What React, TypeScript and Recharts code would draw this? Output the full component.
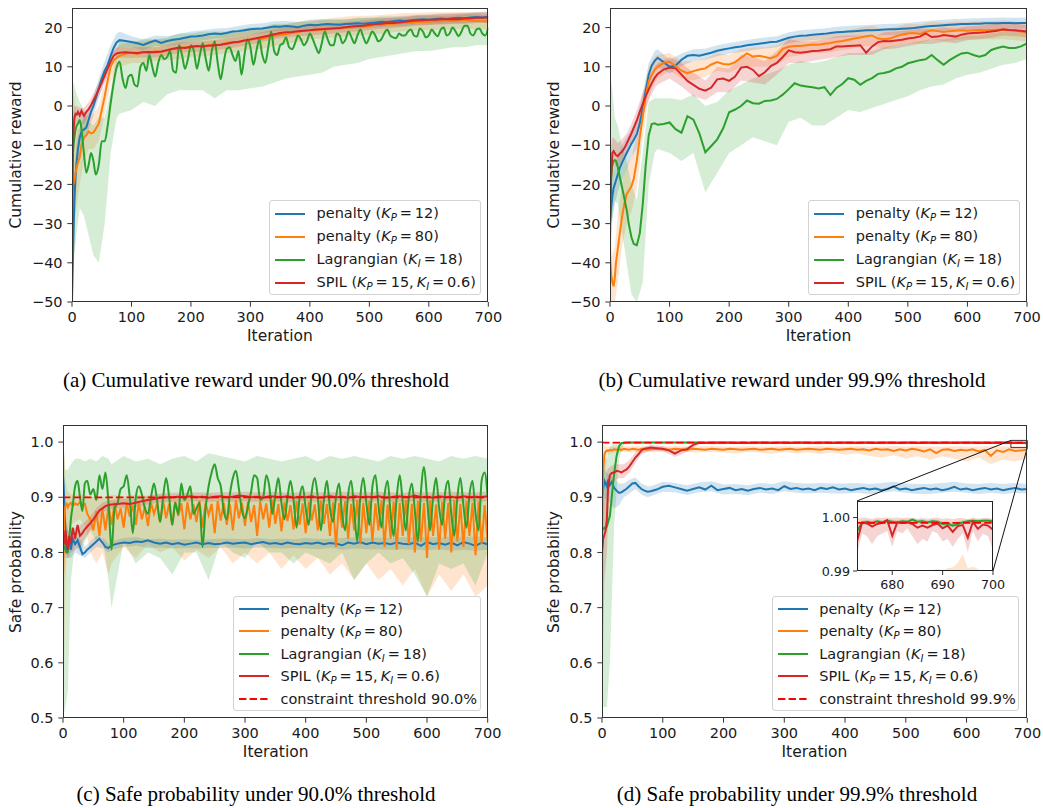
import React from "react";
import { Area, ComposedChart, Line, ReferenceArea, ReferenceLine, XAxis, YAxis } from "recharts";

// iteration grids (sample positions)
const EARLY = [0, 2, 4, 6, 8, 10, 13, 16, 20, 24, 28, 32, 36, 40, 45, 50, 55, 60, 65, 70, 75];
const ITER_C = [...EARLY, ...Array.from({ length: 63 }, (_, i) => 80 + 10 * i)];
const ITER_F = [...EARLY, ...Array.from({ length: 125 }, (_, i) => 80 + 5 * i)];
const ITER_B = [0, 2, 4, 8, 13, 20, 28, 36, 45, 55, 65, 75, 80, ...Array.from({ length: 31 }, (_, i) => 100 + 20 * i)];
const ITER_INSET = Array.from({ length: 28 }, (_, i) => 673 + i);

const X_TICKS = [0, 100, 200, 300, 400, 500, 600, 700];
const REWARD_TICKS = [-50, -40, -30, -20, -10, 0, 10, 20];
const SAFE_TICKS = [0.5, 0.6, 0.7, 0.8, 0.9, 1.0];

// ---- (a) cumulative reward, 90.0% threshold ----
const blueA = [
  -50, -36, -24, -18, -14, -11, -8, -6.5, -6, -5.5, -3.5, -1.5, 0, 2, 4.5, 7, 9, 10.5, 12.8, 14.8, 16.2,
  16.8, 16.6,
  16.3, 16, 15.6, 16.2, 16.7, 16.1, 16.6, 16.9, 17.1, 17.4,
  17.7, 17.8, 18, 18.3, 18.5, 18.4, 18.6, 19, 19.1, 19.3,
  19.6, 19.7, 19.8, 20, 20.3, 20.2, 20.4, 20.3, 20.1, 20.5,
  20.7, 20.6, 20.8, 20.9, 20.8, 20.7, 20.9, 21, 21.1, 21,
  21.2, 21.3, 21.5, 21.4, 21.6, 21.8, 21.7, 21.9, 22, 22.1,
  22, 22.2, 22.3, 22.2, 22.4, 22.5, 22.4, 22.6, 22.7, 22.6, 22.8,
];
const orangeA = [
  -22, -20, -19, -17, -15.5, -14.5, -13, -10, -8, -7.5, -6.5, -7, -6.8, -5.8, -4.5, -1, 2.5, 6.5, 10, 11.6, 12.3,
  12.8, 13.3,
  13.6, 13.2, 13.8, 13.5, 14, 13.7, 14.3, 14.6, 14.4, 15,
  14.9, 15.3, 15.1, 15.6, 15.4, 15.7, 16.1, 16.3, 16.2, 16.7,
  16.9, 17.2, 17.1, 17.6, 17.9, 18.1, 18.3, 18.6, 18.9, 19.2,
  19.4, 19.3, 19.6, 19.5, 19.9, 19.8, 20.1, 20, 20.3, 20.2,
  20.4, 20.7, 20.6, 20.9, 21, 21.1, 21.3, 21.2, 21.5, 21.4,
  21.5, 21.7, 21.6, 21.9, 21.7, 21.8, 22, 21.8, 21.7, 21.6, 21.5,
];
const greenA = [
  -15, -11, -8, -6, -5, -4.5, -3.6, -6, -12, -17, -15, -12, -14, -17.5, -15, -9, -9, -5, 0.7, 5.8, 9.8,
  11.3, 7, 4.6, 7.5,
  8, 5.5, 5, 10, 11, 9, 13, 10, 7.5, 11, 13, 12, 12.5, 14, 9, 8.5, 15.5, 13, 9.5, 12,
  15.5, 14, 9.5, 13, 16, 12, 9, 14, 16.5, 11, 6.8, 11, 14.5, 15, 13, 11.5, 14, 8, 13, 17,
  15, 10.5, 14, 17, 13, 11, 15, 19, 14, 13, 15.5, 16, 17.5, 15, 14.5, 16, 18, 17, 15.5, 16.5,
  18.5, 17, 15, 13.5, 16, 19, 17, 15.5, 15.5, 18.5, 18, 16, 17, 19, 17.5, 16, 18, 19.5, 17.5, 16,
  17.5, 19, 18, 16.5, 17, 18.5, 19.5, 18, 17.5, 17.3, 18.5, 18, 18, 19, 19.5, 18, 17.7, 19.8, 19, 17.5,
  18, 19.5, 18.5, 17.8, 19.5, 20, 18, 18.5, 20, 19, 17.8, 19, 20.5, 20.5, 18.5, 18, 19.5, 19.8, 18.5, 18, 20,
];
const redA = [
  -35, -8, -3, -2, -2.2, -1.5, -2.4, -1.2, -2.5, -1.5, -0.8, 0.2, 1.4, 2.6, 4.3, 6, 7.8, 9.6, 11.4, 12.8, 13.4,
  13.6, 13.7,
  13.6, 13.5, 13.7, 13.8, 13.7, 13.9, 14.2, 14.6, 14.9, 14.8,
  15.1, 15.3, 15.2, 15.4, 15.5, 15.6, 15.9, 16.2, 16.4, 16.7,
  17, 17.3, 17.6, 17.9, 18.3, 18.6, 18.8, 18.9, 19.1, 19.2,
  19.3, 19.5, 19.6, 19.7, 19.8, 19.9, 20.1, 20.3, 20.4, 20.5,
  20.7, 20.9, 21, 21.2, 21.2, 21.3, 21.5, 21.7, 21.8, 21.9,
  22, 22, 22.1, 22.1, 22.2, 22.1, 22.3, 22.4, 22.5, 22.5, 22.6,
];
const blueBandA = [
  [-50, -36], [-46, -26], [-32, -16], [-18, -9], [-11, -5], [-9, -3], [-6, -1], [-2.5, 2.5], [2, 7], [6.5, 11.5], [10.5, 15.5], [14, 18.5],
  [15, 19],
  [15, 17.8], [14.3, 17], [15.3, 18], [15.3, 17.8], [15.8, 18.4], [16.4, 19], [16.7, 19.3], [17.2, 19.8], [17.3, 19.9], [17.8, 20.4],
  [18.3, 20.9], [18.5, 21.1], [19, 21.6], [19.1, 21.7], [18.8, 21.4], [19.4, 22], [19.5, 22.1], [19.5, 22.1], [19.6, 22.2], [19.8, 22.4],
  [19.9, 22.5], [20.2, 22.8], [20.3, 22.9], [20.4, 23], [20.7, 23.3], [20.7, 23.3], [21, 23.6], [21.1, 23.7], [21.1, 23.7], [21.4, 24],
  [21.5, 24.1],
];
const orangeBandA = [
  [-35, 5], [-32, 4], [-30, 2], [-25, -5], [-20, -6], [-14, -3], [-11, -2], [-11, -2], [-9, 0], [-2, 6], [6, 13], [9.5, 15],
  [10, 15.5],
  [11, 16.5], [11, 16.5], [11.5, 17], [11.7, 17], [12, 17.3], [12.5, 17.5], [12.7, 17.7], [13, 18], [13.6, 18.6], [13.8, 18.8],
  [14.5, 19.5], [14.6, 19.8], [15.4, 20.5], [15.8, 20.8], [16.4, 21.4], [17, 21.9], [17.2, 22.1], [17.5, 22.5], [17.8, 22.8], [18, 23],
  [18.2, 23], [18.4, 23.2], [18.8, 23.5], [19.1, 23.7], [19.3, 23.8], [19.4, 23.9], [19.5, 23.9], [19.6, 23.9], [19.8, 24], [19.6, 23.9],
  [19.5, 23.7],
];
const greenBandA = [
  [-45, 7], [-42, 6], [-38, 5], [-32, 3], [-26, 1], [-28, -1], [-33, -4], [-38, -5], [-40, -3], [-30, -3], [-12, 4], [-3, 14],
  [-2, 16.5],
  [-1, 16], [1, 17], [0, 17], [3, 17.5], [4, 18.5], [4, 18.5], [4, 19], [2, 19], [4, 19], [4, 19.5],
  [4.5, 20], [5, 20], [6, 21], [7, 21], [7.5, 21.5], [8, 21.5], [8.5, 22], [10, 22], [10.5, 22], [11, 22.5],
  [12, 22.5], [12.5, 22.5], [13, 22.5], [13.5, 22.5], [14, 23], [14, 23], [14.5, 23], [15, 23], [15, 23.5], [15.5, 23.5],
  [15.5, 23],
];
const redBandA = [
  [-40, -20], [-14, -2], [-6, 0], [-4, 0], [-4.5, -0.5], [-4.5, -0.5], [-2.5, 1], [-0.5, 3.2], [2.5, 6], [6, 9.6], [9.8, 13], [12, 14.8],
  [12.3, 15],
  [12.3, 14.9], [12.4, 15], [12.4, 15], [12.9, 15.5], [13.6, 16.2], [13.8, 16.4], [13.9, 16.5], [14.2, 16.8], [14.6, 17.2], [15.1, 17.7],
  [15.7, 18.3], [16.3, 18.9], [17, 19.6], [17.5, 20.1], [17.8, 20.4], [18, 20.6], [18.3, 20.9], [18.5, 21.1], [18.8, 21.4], [19.1, 21.7],
  [19.4, 22], [19.7, 22.3], [19.9, 22.5], [20.2, 22.8], [20.5, 23.1], [20.7, 23.3], [20.8, 23.4], [20.9, 23.5], [21, 23.6], [21.2, 23.8],
  [21.3, 23.9],
];

// ---- (b) cumulative reward, 99.9% threshold ----
const blueB = [
  -30, -26, -23, -21, -20, -19, -17.5, -16, -14.5, -13.3, -12, -10.8, -9.6, -8.6, -7.2, -4.5, -0.5, 4, 8, 10.3, 11.5,
  12.3, 11.2,
  10, 10.3, 11.8, 12.8, 13, 12.8, 13.2, 13.6, 14.1, 14.4,
  14.7, 15, 15.2, 15.5, 15.7, 15.9, 16.1, 16.3, 16.4, 16.9,
  17.4, 17.7, 17.9, 18, 18.2, 18.3, 18.4, 18.6, 18.8, 18.9,
  19, 19.1, 19.2, 19.3, 19.3, 19.4, 19.5, 19.6, 19.6, 19.7,
  19.8, 19.9, 20.1, 20.3, 20.4, 20.5, 20.6, 20.7, 20.8, 20.9,
  20.9, 21, 21, 21.1, 21.1, 21.1, 21.2, 21.2, 21.1, 21.2, 21.2,
];
const orangeB = [
  -38, -43, -45, -46, -44, -40, -36.5, -33, -28.5, -25, -22.5, -21.5, -20.5, -18.5, -14, -8, -2.5, 2.5, 6.3, 8, 9.2,
  10, 11,
  11.3, 10.2, 9, 8.4, 8.9, 9.3, 9.6, 10.6, 11.2, 10.7,
  10.6, 11.2, 12.3, 13.4, 12.6, 12.8, 12.5, 12.2, 12.8, 14.6,
  15.1, 15.3, 15.3, 15.5, 15.7, 15.6, 15.9, 16.1, 16.4, 16.6,
  16.9, 17.2, 17.5, 17.8, 18, 17.2, 17, 17.2, 17.8, 18.2,
  18.5, 18.6, 18.4, 18.9, 19.3, 19.1, 18.9, 19.1, 19.2, 19.3,
  19.2, 19.3, 19.4, 19.3, 19.4, 19.5, 19.4, 19.3, 19.2, 19, 18.7,
];
const greenB = [
  -25, -18, -15, -14, -13.8, -14, -15.5, -17.8, -20.6, -23.5, -26.5, -30.5, -33.5, -35.2, -35.5, -32.5, -25, -15, -7.5, -4.6, -4.4,
  -4.8, -4.6,
  -4.2, -5.9, -6.8, -2.6, -3.5, -7, -11.8, -10.2, -8.5, -5.7,
  -1.6, -0.9, 0, 1.4, 0.7, 0.6, 1.3, 1.4, 1.8, 2.9,
  4.3, 5.8, 5.2, 5, 4.8, 4.5, 4.8, 2.8, 4.6, 5.6,
  7.1, 6.7, 5.4, 6.4, 7.1, 8.2, 8.4, 8.8, 9.6, 10,
  10.9, 11.3, 11.7, 11.9, 13, 11.7, 10.5, 11.7, 12.6, 13.4,
  13.6, 13, 12.6, 13, 14.3, 14.8, 15.2, 14.8, 14.8, 15.2, 16,
];
const redB = [
  -30, -18, -12, -11.5, -12, -12.5, -12.8, -12.2, -11.7, -10.8, -9.6, -8.3, -7, -5.5, -3.7, -1.5, 0.5, 2.5, 4.2, 5.8, 7.2,
  8.2, 9.3,
  9.8, 9.6, 8, 6.4, 5.4, 4.4, 3.9, 4.7, 6.8, 7,
  6.4, 7.5, 9.8, 10, 9.2, 7.6, 8.6, 10.2, 11, 12.5,
  14.2, 13.7, 13.6, 13.8, 14, 14.1, 14.3, 14.5, 15.2, 15.2,
  15.3, 15.4, 15.5, 13.6, 15.2, 16.3, 16.6, 16.5, 16.7, 16.9,
  17.2, 17.4, 17.7, 18.5, 17.6, 17.7, 18.1, 17.9, 17.7, 18.2,
  18.5, 18.6, 18.7, 18.8, 19, 19.2, 19.6, 19.4, 19.3, 19.2, 19,
];
const blueBandB = [
  [-40, -20], [-33, -19], [-29, -17], [-25, -15], [-22, -13], [-19, -10], [-16, -8], [-13, -6], [-11, -3], [-4, 3], [5, 11], [9, 14],
  [10, 14.5],
  [8.3, 11.8], [10.2, 13.4], [11.5, 14.5], [11.8, 14.6], [12.7, 15.5], [13.3, 16.1], [13.8, 16.6], [14.3, 17.1], [14.7, 17.5], [15, 17.8],
  [16, 18.8], [16.5, 19.3], [16.8, 19.6], [17, 19.8], [17.4, 20.2], [17.6, 20.4], [17.8, 20.6], [17.9, 20.7], [18.1, 20.9], [18.2, 21],
  [18.4, 21.2], [18.7, 21.5], [19, 21.8], [19.2, 22], [19.4, 22.2], [19.5, 22.3], [19.6, 22.4], [19.7, 22.5], [19.8, 22.6], [19.7, 22.5],
  [19.8, 22.6],
];
const orangeBandB = [
  [-50, -25], [-50, -35], [-50, -38], [-50, -36], [-45, -28], [-36, -20], [-30, -15], [-27, -13], [-21, -7], [-8, 3], [2, 10], [6, 12.5],
  [7, 13],
  [9, 13.5], [7, 11.5], [6.5, 11.5], [7.5, 12], [9, 13.5], [8.5, 13], [10, 14.5], [10, 15], [10, 15], [10.5, 15.5],
  [12.5, 17.5], [13, 17.5], [13.5, 18], [13.5, 18.3], [14, 18.8], [14.5, 19.3], [15, 20], [15.5, 20.5], [14.5, 19.5], [15.5, 20.2],
  [16, 21], [16, 20.8], [17, 21.5], [16.5, 21.3], [16.8, 21.5], [17, 21.5], [17, 21.7], [17, 21.7], [17, 21.8], [16.8, 21.6],
  [16.4, 21.2],
];
const greenBandB = [
  [-45, 6], [-35, 6], [-28, 4], [-24, -3], [-25, -5], [-32, -10], [-40, -14], [-48, -20], [-50, -24], [-45, -12], [-20, 1], [-12, 2],
  [-11, 2],
  [-12, 2], [-14, 1.5], [-12, 3], [-22, 0], [-17, 1], [-12, 4], [-10, 5.5], [-8, 7], [-9, 8], [-10, 9],
  [-4, 10.5], [-3, 11.5], [-5, 11], [-5, 11.5], [-3, 12.5], [-1, 13.5], [-1.5, 13.5], [-0.5, 14], [0.5, 15], [1.5, 15.5],
  [2.5, 16], [4, 16.5], [5, 17], [5.5, 17], [7, 17.5], [8, 18], [8.5, 18], [9.5, 18.5], [10.5, 19], [11, 19],
  [12, 19.5],
];
const redBandB = [
  [-40, -15], [-25, -10], [-16, -8], [-15, -8.5], [-15.5, -9.5], [-14.5, -8.5], [-12.5, -7], [-9.5, -4.5], [-6.5, -1], [-2.5, 3.5], [1.5, 7], [4.5, 10],
  [5.5, 11],
  [7, 12.5], [5, 11], [2.5, 8.5], [1.5, 6.5], [3.5, 10], [3.5, 9.5], [6.5, 13], [6, 12.5], [5.5, 11.5], [8, 14],
  [11, 17], [11, 16.5], [11.5, 16.5], [12, 17], [12.5, 17.8], [13, 18], [13, 18], [13, 17.5], [14.5, 18.8], [14.7, 19],
  [15.3, 19.3], [15.8, 19.8], [15.8, 19.6], [16.3, 20], [16, 19.8], [16.8, 20.3], [17, 20.5], [17.4, 20.8], [18, 21.2], [17.8, 21],
  [17.5, 20.6],
];

// ---- (c) safe probability, 90.0% threshold ----
const blueC = [
  0.94, 0.9, 0.83, 0.8, 0.815, 0.82, 0.805, 0.825, 0.815, 0.822, 0.81, 0.797, 0.8, 0.805, 0.81, 0.815, 0.82, 0.825, 0.818, 0.81, 0.808,
  0.813, 0.816,
  0.818, 0.817, 0.82, 0.819, 0.822, 0.818, 0.816, 0.818, 0.815, 0.817,
  0.814, 0.816, 0.818, 0.815, 0.817, 0.815, 0.816, 0.818, 0.816, 0.817,
  0.818, 0.815, 0.817, 0.819, 0.816, 0.817, 0.815, 0.818, 0.816, 0.815,
  0.817, 0.816, 0.818, 0.815, 0.817, 0.816, 0.813, 0.818, 0.816, 0.819,
  0.815, 0.818, 0.816, 0.817, 0.815, 0.818, 0.816, 0.815, 0.818, 0.812,
  0.819, 0.815, 0.817, 0.814, 0.818, 0.813, 0.819, 0.816, 0.812, 0.818, 0.815,
];
const orangeC = [
  0.75, 0.86, 0.885, 0.888, 0.882, 0.887, 0.89, 0.884, 0.889, 0.886, 0.891, 0.885, 0.888, 0.87, 0.86, 0.84, 0.875, 0.83, 0.88, 0.84, 0.885,
  0.85, 0.89, 0.86, 0.88,
  0.845, 0.89, 0.865, 0.885, 0.85, 0.89, 0.86, 0.883, 0.848, 0.89, 0.87, 0.888, 0.855, 0.893, 0.862, 0.888, 0.85, 0.892, 0.866, 0.889,
  0.842, 0.891, 0.86, 0.887, 0.855, 0.894, 0.845, 0.89, 0.868, 0.888, 0.835, 0.893, 0.858, 0.89, 0.85, 0.887, 0.84, 0.895, 0.862, 0.89,
  0.848, 0.892, 0.855, 0.886, 0.83, 0.893, 0.86, 0.889, 0.845, 0.895, 0.852, 0.888, 0.838, 0.891, 0.857, 0.886, 0.842, 0.893, 0.85, 0.889,
  0.835, 0.892, 0.858, 0.887, 0.84, 0.894, 0.852, 0.888, 0.83, 0.891, 0.81, 0.89, 0.845, 0.893, 0.825, 0.888, 0.84, 0.895, 0.815, 0.89,
  0.835, 0.893, 0.82, 0.889, 0.84, 0.894, 0.81, 0.887, 0.825, 0.892, 0.805, 0.89, 0.83, 0.895, 0.815, 0.888, 0.8, 0.893, 0.82, 0.89,
  0.79, 0.894, 0.83, 0.887, 0.805, 0.892, 0.825, 0.89, 0.8, 0.895, 0.82, 0.888, 0.81, 0.893, 0.83, 0.89, 0.795, 0.892, 0.815, 0.886, 0.82,
];
const greenC = [
  0.82, 0.81, 0.805, 0.8, 0.8, 0.82, 0.86, 0.885, 0.92, 0.93, 0.9, 0.875, 0.925, 0.93, 0.905, 0.915, 0.895, 0.94, 0.915, 0.945, 0.89,
  0.805, 0.88, 0.89, 0.915,
  0.92, 0.94, 0.9, 0.835, 0.9, 0.92, 0.905, 0.88, 0.87, 0.9, 0.925, 0.895, 0.855, 0.9, 0.935, 0.9, 0.85, 0.89, 0.87, 0.925,
  0.895, 0.905, 0.92, 0.87, 0.88, 0.89, 0.81, 0.88, 0.92, 0.945, 0.96, 0.935, 0.92, 0.875, 0.86, 0.905, 0.935, 0.948, 0.915, 0.875,
  0.862, 0.885, 0.91, 0.94, 0.935, 0.895, 0.9, 0.94, 0.92, 0.87, 0.905, 0.935, 0.89, 0.86, 0.9, 0.93, 0.895, 0.845, 0.9, 0.92,
  0.88, 0.85, 0.91, 0.935, 0.9, 0.84, 0.895, 0.93, 0.88, 0.855, 0.9, 0.925, 0.87, 0.84, 0.905, 0.93, 0.875, 0.82, 0.9, 0.935,
  0.89, 0.85, 0.92, 0.94, 0.885, 0.845, 0.905, 0.93, 0.87, 0.83, 0.9, 0.94, 0.89, 0.84, 0.9, 0.925, 0.875, 0.82, 0.91, 0.955,
  0.9, 0.84, 0.9, 0.935, 0.88, 0.85, 0.91, 0.93, 0.87, 0.83, 0.9, 0.935, 0.885, 0.845, 0.905, 0.93, 0.87, 0.84, 0.93, 0.945, 0.9,
];
const redC = [
  0.83, 0.815, 0.84, 0.82, 0.805, 0.83, 0.815, 0.845, 0.825, 0.85, 0.83, 0.835, 0.842, 0.847, 0.853, 0.86, 0.868, 0.876, 0.88, 0.884, 0.886,
  0.887, 0.888,
  0.889, 0.888, 0.89, 0.893, 0.895, 0.897, 0.899, 0.9, 0.9, 0.901,
  0.9, 0.902, 0.9, 0.901, 0.899, 0.901, 0.902, 0.9, 0.901, 0.903,
  0.902, 0.9, 0.901, 0.899, 0.902, 0.901, 0.9, 0.902, 0.899, 0.901,
  0.9, 0.902, 0.899, 0.9, 0.902, 0.9, 0.901, 0.899, 0.902, 0.9,
  0.901, 0.9, 0.902, 0.899, 0.9, 0.902, 0.901, 0.9, 0.903, 0.9,
  0.901, 0.899, 0.902, 0.9, 0.901, 0.899, 0.902, 0.9, 0.901, 0.9, 0.902,
];
const blueBandC = [
  [0.9, 0.97], [0.84, 0.95], [0.79, 0.87], [0.79, 0.84], [0.79, 0.83], [0.8, 0.83], [0.795, 0.825], [0.79, 0.81], [0.8, 0.82], [0.81, 0.83], [0.808, 0.828], [0.8, 0.816],
  [0.805, 0.82],
  [0.81, 0.826], [0.812, 0.828], [0.808, 0.824], [0.809, 0.825], [0.807, 0.823], [0.808, 0.824], [0.807, 0.823], [0.808, 0.824], [0.808, 0.825], [0.809, 0.825],
  [0.807, 0.824], [0.809, 0.826], [0.808, 0.824], [0.807, 0.825], [0.808, 0.824], [0.807, 0.826], [0.806, 0.825], [0.808, 0.825], [0.805, 0.826], [0.807, 0.827],
  [0.806, 0.826], [0.806, 0.827], [0.805, 0.826], [0.806, 0.828], [0.805, 0.827], [0.804, 0.828], [0.806, 0.827], [0.803, 0.829], [0.805, 0.828], [0.803, 0.829],
  [0.805, 0.827],
];
const orangeBandC = [
  [0.55, 1.0], [0.6, 0.98], [0.75, 0.93], [0.84, 0.91], [0.85, 0.905], [0.855, 0.905], [0.86, 0.905], [0.85, 0.905], [0.8, 0.9], [0.78, 0.9], [0.8, 0.9], [0.76, 0.9],
  [0.78, 0.905],
  [0.81, 0.902], [0.79, 0.905], [0.815, 0.903], [0.8, 0.905], [0.81, 0.903], [0.785, 0.905], [0.805, 0.904], [0.79, 0.905], [0.81, 0.903], [0.78, 0.905],
  [0.8, 0.904], [0.78, 0.905], [0.8, 0.903], [0.77, 0.905], [0.795, 0.904], [0.77, 0.905], [0.79, 0.903], [0.76, 0.905], [0.78, 0.904], [0.75, 0.905],
  [0.78, 0.904], [0.75, 0.905], [0.77, 0.903], [0.74, 0.905], [0.77, 0.904], [0.72, 0.905], [0.76, 0.903], [0.73, 0.905], [0.76, 0.904], [0.72, 0.905],
  [0.74, 0.904],
];
const greenBandC = [
  [0.52, 1.0], [0.51, 0.98], [0.52, 0.95], [0.55, 0.95], [0.75, 0.96], [0.82, 0.97], [0.8, 0.97], [0.82, 0.965], [0.84, 0.97], [0.82, 0.965], [0.83, 0.975], [0.75, 0.97],
  [0.7, 0.96],
  [0.82, 0.975], [0.78, 0.965], [0.8, 0.97], [0.79, 0.96], [0.76, 0.97], [0.8, 0.975], [0.8, 0.965], [0.75, 0.98], [0.82, 0.975], [0.8, 0.97],
  [0.79, 0.965], [0.82, 0.975], [0.8, 0.97], [0.8, 0.965], [0.78, 0.97], [0.8, 0.975], [0.79, 0.965], [0.78, 0.975], [0.8, 0.97], [0.75, 0.975],
  [0.78, 0.97], [0.8, 0.965], [0.78, 0.975], [0.79, 0.97], [0.76, 0.975], [0.72, 0.97], [0.78, 0.965], [0.77, 0.975], [0.78, 0.97], [0.74, 0.975],
  [0.8, 0.97],
];
const redBandC = [
  [0.78, 0.88], [0.79, 0.85], [0.8, 0.86], [0.79, 0.84], [0.8, 0.84], [0.805, 0.845], [0.81, 0.85], [0.825, 0.855], [0.84, 0.865], [0.855, 0.88], [0.872, 0.89], [0.878, 0.894],
  [0.879, 0.895],
  [0.881, 0.897], [0.882, 0.898], [0.887, 0.903], [0.891, 0.907], [0.892, 0.908], [0.892, 0.908], [0.893, 0.909], [0.892, 0.908], [0.893, 0.909], [0.892, 0.909],
  [0.893, 0.91], [0.892, 0.909], [0.893, 0.91], [0.892, 0.909], [0.892, 0.908], [0.893, 0.91], [0.892, 0.909], [0.892, 0.909], [0.893, 0.91], [0.892, 0.909],
  [0.892, 0.909], [0.893, 0.91], [0.892, 0.909], [0.892, 0.908], [0.893, 0.91], [0.892, 0.909], [0.892, 0.909], [0.893, 0.91], [0.892, 0.909], [0.892, 0.909],
  [0.893, 0.91],
];

// ---- (d) safe probability, 99.9% threshold ----
const blueD = [
  0.9, 0.915, 0.93, 0.925, 0.92, 0.932, 0.922, 0.928, 0.917, 0.912, 0.908, 0.909, 0.912, 0.915, 0.92, 0.925, 0.926, 0.92, 0.915, 0.912, 0.91,
  0.911, 0.914,
  0.919, 0.921, 0.918, 0.915, 0.912, 0.915, 0.918, 0.914, 0.921, 0.913,
  0.915, 0.917, 0.913, 0.915, 0.912, 0.915, 0.917, 0.914, 0.916, 0.913,
  0.92, 0.915, 0.917, 0.914, 0.916, 0.913, 0.917, 0.915, 0.918, 0.914,
  0.916, 0.913, 0.915, 0.917, 0.914, 0.916, 0.913, 0.915, 0.92, 0.914,
  0.916, 0.913, 0.915, 0.917, 0.914, 0.916, 0.913, 0.915, 0.919, 0.914,
  0.916, 0.913, 0.915, 0.917, 0.914, 0.916, 0.913, 0.915, 0.917, 0.914, 0.915,
];
const orangeD = [
  0.86, 0.95, 0.978, 0.983, 0.985, 0.984, 0.986, 0.985, 0.987, 0.986, 0.987, 0.986, 0.988, 0.987, 0.986, 0.988, 0.987, 0.986, 0.988, 0.987, 0.986,
  0.987, 0.988,
  0.987, 0.986, 0.988, 0.987, 0.986, 0.988, 0.987, 0.986, 0.988, 0.987,
  0.986, 0.988, 0.987, 0.986, 0.987, 0.988, 0.986, 0.987, 0.988, 0.986,
  0.987, 0.988, 0.986, 0.987, 0.988, 0.987, 0.986, 0.988, 0.987, 0.986,
  0.987, 0.988, 0.986, 0.987, 0.985, 0.988, 0.986, 0.987, 0.984, 0.987,
  0.985, 0.988, 0.986, 0.983, 0.987, 0.98, 0.986, 0.987, 0.984, 0.986,
  0.985, 0.987, 0.983, 0.986, 0.975, 0.985, 0.982, 0.987, 0.984, 0.985, 0.986,
];
const greenD = [
  0.84, 0.842, 0.845, 0.843, 0.847, 0.855, 0.866, 0.9, 0.943, 0.975, 0.992, 0.998, 0.999, 0.9995, 0.9993, 0.9994, 0.9993, 0.9992, 0.9994, 0.9993, 0.9994,
  0.9993, 0.9994,
  0.9993, 0.9992, 0.9994, 0.9993, 0.9995, 0.9993, 0.9992, 0.9994, 0.9993, 0.9994,
  0.9992, 0.9993, 0.9994, 0.9993, 0.9992, 0.9994, 0.9993, 0.9995, 0.9993, 0.9992,
  0.9994, 0.9993, 0.9992, 0.9994, 0.9993, 0.9994, 0.9992, 0.9993, 0.9994, 0.9993,
  0.9992, 0.9994, 0.9993, 0.9995, 0.9993, 0.9992, 0.9994, 0.9993, 0.9992, 0.9994,
  0.9993, 0.9992, 0.9994, 0.9993, 0.9994, 0.9992, 0.9993, 0.9994, 0.9993, 0.9992,
  0.9994, 0.9993, 0.9992, 0.9994, 0.9993, 0.9994, 0.9992, 0.9993, 0.9992, 0.9988, 0.9993,
];
const redD = [
  0.8, 0.825, 0.832, 0.84, 0.86, 0.92, 0.94, 0.944, 0.945, 0.948, 0.947, 0.945, 0.948, 0.95, 0.956, 0.964, 0.972, 0.978, 0.985, 0.988, 0.989,
  0.99, 0.989,
  0.988, 0.985, 0.979, 0.985, 0.987, 0.995, 0.9988, 0.9986, 0.999, 0.9988,
  0.9987, 0.999, 0.9986, 0.9989, 0.9985, 0.9988, 0.999, 0.9987, 0.9986, 0.9989,
  0.9988, 0.9986, 0.999, 0.9987, 0.9989, 0.9985, 0.9988, 0.999, 0.9986, 0.9988,
  0.9989, 0.9987, 0.9985, 0.9988, 0.999, 0.9986, 0.9988, 0.9987, 0.9989, 0.9986,
  0.9988, 0.999, 0.9985, 0.9987, 0.9989, 0.9986, 0.9988, 0.9987, 0.9985, 0.9988,
  0.9987, 0.9989, 0.9986, 0.9988, 0.9985, 0.9987, 0.9989, 0.9986, 0.9985, 0.9987, 0.9978,
];
const blueBandD = [
  [0.85, 0.95], [0.87, 0.95], [0.9, 0.95], [0.895, 0.945], [0.89, 0.94], [0.88, 0.935], [0.885, 0.925], [0.9, 0.925], [0.907, 0.932], [0.915, 0.936], [0.905, 0.925], [0.9, 0.92],
  [0.902, 0.92],
  [0.91, 0.928], [0.909, 0.926], [0.904, 0.922], [0.909, 0.927], [0.911, 0.929], [0.905, 0.923], [0.906, 0.924], [0.904, 0.922], [0.908, 0.926], [0.906, 0.924],
  [0.911, 0.929], [0.908, 0.926], [0.907, 0.925], [0.908, 0.926], [0.907, 0.925], [0.907, 0.925], [0.908, 0.926], [0.906, 0.924], [0.908, 0.926], [0.911, 0.928],
  [0.908, 0.925], [0.906, 0.924], [0.906, 0.924], [0.908, 0.926], [0.91, 0.928], [0.908, 0.925], [0.906, 0.924], [0.908, 0.926], [0.906, 0.924], [0.908, 0.926],
  [0.907, 0.924],
];
const orangeBandD = [
  [0.5, 0.99], [0.6, 0.995], [0.9, 0.995], [0.975, 0.992], [0.98, 0.992], [0.981, 0.992], [0.982, 0.992], [0.982, 0.993], [0.981, 0.992], [0.982, 0.993], [0.981, 0.992], [0.982, 0.992],
  [0.982, 0.992],
  [0.982, 0.992], [0.981, 0.993], [0.982, 0.992], [0.981, 0.992], [0.982, 0.993], [0.981, 0.992], [0.98, 0.992], [0.982, 0.993], [0.981, 0.992], [0.979, 0.992],
  [0.982, 0.993], [0.98, 0.992], [0.981, 0.992], [0.978, 0.993], [0.981, 0.992], [0.977, 0.992], [0.98, 0.993], [0.975, 0.992], [0.972, 0.992], [0.976, 0.993],
  [0.97, 0.992], [0.975, 0.993], [0.968, 0.992], [0.974, 0.992], [0.97, 0.993], [0.965, 0.992], [0.972, 0.992], [0.96, 0.993], [0.968, 0.992], [0.965, 0.993],
  [0.97, 0.992],
];
const greenBandD = [
  [0.52, 0.95], [0.52, 0.96], [0.52, 0.97], [0.52, 0.97], [0.6, 0.99], [0.85, 1.0], [0.97, 1.0], [0.995, 1.0], [0.997, 1.0], [0.998, 1.0], [0.998, 1.0], [0.998, 1.0],
  [0.998, 1.0],
  [0.998, 1.0], [0.998, 1.0], [0.998, 1.0], [0.998, 1.0], [0.998, 1.0], [0.998, 1.0], [0.998, 1.0], [0.998, 1.0], [0.998, 1.0], [0.998, 1.0],
  [0.998, 1.0], [0.998, 1.0], [0.998, 1.0], [0.998, 1.0], [0.998, 1.0], [0.998, 1.0], [0.998, 1.0], [0.998, 1.0], [0.998, 1.0], [0.998, 1.0],
  [0.998, 1.0], [0.998, 1.0], [0.998, 1.0], [0.998, 1.0], [0.998, 1.0], [0.998, 1.0], [0.998, 1.0], [0.998, 1.0], [0.998, 1.0], [0.998, 1.0],
  [0.998, 1.0],
];
const redBandD = [
  [0.5, 0.86], [0.65, 0.87], [0.75, 0.9], [0.8, 0.95], [0.925, 0.955], [0.93, 0.96], [0.935, 0.96], [0.935, 0.96], [0.945, 0.967], [0.962, 0.982], [0.978, 0.99], [0.983, 0.994],
  [0.985, 0.995],
  [0.984, 0.993], [0.973, 0.985], [0.982, 0.992], [0.997, 1.0], [0.996, 1.0], [0.996, 1.0], [0.997, 1.0], [0.996, 1.0], [0.996, 1.0], [0.997, 1.0],
  [0.996, 1.0], [0.997, 1.0], [0.996, 1.0], [0.996, 1.0], [0.997, 1.0], [0.996, 1.0], [0.996, 1.0], [0.997, 1.0], [0.996, 1.0], [0.996, 1.0],
  [0.996, 1.0], [0.997, 1.0], [0.996, 1.0], [0.996, 1.0], [0.997, 1.0], [0.996, 1.0], [0.996, 1.0], [0.997, 1.0], [0.996, 1.0], [0.996, 1.0],
  [0.996, 1.0],
];

// ---- (d) inset, iterations 673..700 ----
const greenInset = [0.9975, 0.999, 0.9992, 0.999, 0.9993, 0.9991, 0.9994, 0.9992, 0.9991, 0.9993, 0.9992, 0.9996, 0.9992, 0.9993, 0.9991, 0.9993, 0.9992, 0.9988, 0.9989, 0.9985, 0.9988, 0.9991, 0.9993, 0.9994, 0.9993, 0.9994, 0.9994, 0.9993];
const redInset = [0.9955, 0.9991, 0.9989, 0.9983, 0.9988, 0.999, 0.9995, 0.9966, 0.9991, 0.999, 0.9991, 0.9988, 0.9981, 0.9985, 0.9981, 0.9986, 0.9989, 0.998, 0.9985, 0.9973, 0.9984, 0.9986, 0.9962, 0.9992, 0.9979, 0.9987, 0.9985, 0.9977];
const greenInsetLo = [0.997, 0.9986, 0.9988, 0.9986, 0.9989, 0.9987, 0.999, 0.9988, 0.9987, 0.9989, 0.9988, 0.9992, 0.9988, 0.9989, 0.9987, 0.9989, 0.9988, 0.9984, 0.9985, 0.9981, 0.9984, 0.9987, 0.9989, 0.999, 0.9989, 0.999, 0.999, 0.9989];
const greenInsetHi = [0.998, 0.9994, 0.9996, 0.9994, 0.9997, 0.9995, 0.9998, 0.9996, 0.9995, 0.9997, 0.9996, 0.9999, 0.9996, 0.9997, 0.9995, 0.9997, 0.9996, 0.9992, 0.9993, 0.9989, 0.9992, 0.9995, 0.9997, 0.9998, 0.9997, 0.9998, 0.9998, 0.9997];
const redInsetLo = [0.993, 0.997, 0.9965, 0.995, 0.9965, 0.997, 0.9975, 0.9945, 0.9975, 0.997, 0.998, 0.9965, 0.995, 0.996, 0.9955, 0.9975, 0.997, 0.9955, 0.996, 0.9945, 0.996, 0.997, 0.9935, 0.9975, 0.9955, 0.997, 0.9965, 0.994];
const redInsetHi = [0.9998, 1.0, 0.9999, 0.9998, 1.0, 0.9999, 1.0, 0.9999, 1.0, 0.9999, 1.0, 0.9999, 0.9998, 0.9999, 0.9998, 0.9999, 1.0, 0.9998, 0.9999, 0.9997, 0.9999, 0.9999, 0.9997, 1.0, 0.9998, 0.9999, 0.9999, 0.9998];
const orangeInsetHi = [0.989, 0.9905, 0.989, 0.9895, 0.989, 0.9888, 0.989, 0.9892, 0.989, 0.9888, 0.989, 0.9892, 0.989, 0.989, 0.9888, 0.9902, 0.9904, 0.9901, 0.9905, 0.9907, 0.9915, 0.9932, 0.9905, 0.9908, 0.9904, 0.989, 0.9888, 0.989];

// ---- styling / layout ----
const BLUE = "#1f77b4";
const ORANGE = "#ff7f0e";
const GREEN = "#2ca02c";
const RED = "#d62728";
const THR = "#ff0000";
const AX = "#333333";
const TXT = "#1a1a1a";
const FONT = "'DejaVu Sans', Verdana, sans-serif";
const SERIF = "'Liberation Serif', 'Times New Roman', serif";

const BOX_A = { L: 71.7, T: 8, R: 488, B: 302 };
const BOX_B = { L: 610, T: 8, R: 1027, B: 302 };
const BOX_C = { L: 63.3, T: 425, R: 488, B: 718 };
const BOX_D = { L: 601.7, T: 425, R: 1027, B: 718 };
const BOX_INSET = { L: 856.7, T: 501, R: 992.7, B: 571 };

const REWARD_DOMAIN: [number, number] = [-50, 25];
const SAFE_DOMAIN: [number, number] = [0.5, 1.031];
const INSET_X: [number, number] = [673, 700];
const INSET_Y: [number, number] = [0.99, 1.0031];

const YW = 60;
const MT = 10;
const MR = 20;
const XH = 40;

type Box = { L: number; T: number; R: number; B: number };
type Col = [number[], unknown[]];
type Curve = "linear" | "monotone";

function makeTable(iters: number[], cols: Record<string, Col>) {
  const maps = Object.entries(cols).map(([k, [its, vals]]) => [k, new Map(its.map((it, i) => [it, vals[i]]))] as const);
  return iters.map((it) => {
    const row: Record<string, unknown> = { it };
    for (const [k, m] of maps) row[k] = m.has(it) ? m.get(it) : null;
    return row;
  });
}

const SERIES = [
  { key: "b", color: BLUE },
  { key: "o", color: ORANGE },
  { key: "g", color: GREEN },
  { key: "r", color: RED },
];

const tableA = makeTable(ITER_F, {
  b: [ITER_C, blueA], o: [ITER_C, orangeA], g: [ITER_F, greenA], r: [ITER_C, redA],
  bB: [ITER_B, blueBandA], oB: [ITER_B, orangeBandA], gB: [ITER_B, greenBandA], rB: [ITER_B, redBandA],
});
const tableB = makeTable(ITER_F, {
  b: [ITER_C, blueB], o: [ITER_C, orangeB], g: [ITER_C, greenB], r: [ITER_C, redB],
  bB: [ITER_B, blueBandB], oB: [ITER_B, orangeBandB], gB: [ITER_B, greenBandB], rB: [ITER_B, redBandB],
});
const tableC = makeTable(ITER_F, {
  b: [ITER_C, blueC], o: [ITER_F, orangeC], g: [ITER_F, greenC], r: [ITER_C, redC],
  bB: [ITER_B, blueBandC], oB: [ITER_B, orangeBandC], gB: [ITER_B, greenBandC], rB: [ITER_B, redBandC],
});
const tableD = makeTable(ITER_F, {
  b: [ITER_C, blueD], o: [ITER_C, orangeD], g: [ITER_C, greenD], r: [ITER_C, redD],
  bB: [ITER_B, blueBandD], oB: [ITER_B, orangeBandD], gB: [ITER_B, greenBandD], rB: [ITER_B, redBandD],
});
const tableInset = ITER_INSET.map((it, i) => ({
  it,
  g: greenInset[i],
  r: redInset[i],
  gB: [greenInsetLo[i], greenInsetHi[i]],
  rB: [redInsetLo[i], redInsetHi[i]],
  oB: [0.98, orangeInsetHi[i]],
}));

const minus = (v: number) => (v < 0 ? "\u2212" + Math.abs(v) : String(v));
const oneDec = (v: number) => v.toFixed(1);

// pixel position -> data coords of a panel (used for inset connector lines)
function toData(box: Box, yDom: [number, number], px: number, py: number) {
  return {
    x: ((px - box.L) / (box.R - box.L)) * 700,
    y: yDom[1] - ((py - box.T) / (box.B - box.T)) * (yDom[1] - yDom[0]),
  };
}

function Panel({ box, domain, yTicks, fmt, data, threshold, extra, greenCurve = "linear" }: {
  box: Box; domain: [number, number]; yTicks: number[]; fmt: (v: number) => string;
  data: Record<string, unknown>[]; threshold?: number; extra?: React.ReactNode[]; greenCurve?: Curve;
}) {
  const w = box.R - box.L;
  const h = box.B - box.T;
  const tick = { fontSize: 14.5, fill: TXT, fontFamily: FONT };
  return (
    <>
      <div style={{ position: "absolute", left: box.L - YW, top: box.T - MT }}>
        <ComposedChart width={YW + w + MR} height={MT + h + XH} data={data} margin={{ top: MT, right: MR, bottom: 0, left: 0 }}>
          <XAxis dataKey="it" type="number" domain={[0, 700]} ticks={X_TICKS} interval={0} allowDataOverflow height={XH}
            axisLine={false} tickLine={{ stroke: AX }} tickSize={4.7} tickMargin={4.7} tick={tick} />
          <YAxis type="number" domain={domain} ticks={yTicks} interval={0} allowDataOverflow width={YW}
            axisLine={false} tickLine={{ stroke: AX }} tickSize={4.7} tickMargin={4.7} tick={tick} tickFormatter={fmt} />
          {SERIES.map((s) => (
            <Area key={s.key + "B"} dataKey={s.key + "B"} type="linear" stroke="none" fill={s.color} fillOpacity={0.2}
              connectNulls isAnimationActive={false} activeDot={false} />
          ))}
          {SERIES.map((s) => (
            <Line key={s.key} dataKey={s.key} type={s.key === "g" ? greenCurve : "linear"} stroke={s.color} strokeWidth={2}
              dot={false} activeDot={false} connectNulls isAnimationActive={false} />
          ))}
          {threshold != null && (
            <ReferenceLine y={threshold} stroke={THR} strokeWidth={1.8} strokeDasharray="7.4 3.2" />
          )}
          {extra}
        </ComposedChart>
      </div>
      <div style={{ position: "absolute", left: box.L, top: box.T, width: w, height: h, border: `1px solid ${AX}`, boxSizing: "border-box", pointerEvents: "none" }} />
    </>
  );
}

function Inset() {
  const b = BOX_INSET;
  const w = b.R - b.L;
  const h = b.B - b.T;
  const iyw = 44, imt = 6, imr = 14, ixh = 30;
  const tick = { fontSize: 12.7, fill: TXT, fontFamily: FONT };
  return (
    <>
      <div style={{ position: "absolute", left: b.L, top: b.T, width: w, height: h, background: "#fff" }} />
      <div style={{ position: "absolute", left: b.L - iyw, top: b.T - imt }}>
        <ComposedChart width={iyw + w + imr} height={imt + h + ixh} data={tableInset} margin={{ top: imt, right: imr, bottom: 0, left: 0 }}>
          <XAxis dataKey="it" type="number" domain={INSET_X} ticks={[680, 690, 700]} interval={0} allowDataOverflow height={ixh}
            axisLine={false} tickLine={{ stroke: AX }} tickSize={4} tickMargin={4.5} tick={tick} />
          <YAxis type="number" domain={INSET_Y} ticks={[0.99, 1.0]} interval={0} allowDataOverflow width={iyw}
            axisLine={false} tickLine={{ stroke: AX }} tickSize={4} tickMargin={3} tick={tick} tickFormatter={(v: number) => v.toFixed(2)} />
          <Area dataKey="oB" type="linear" stroke="none" fill={ORANGE} fillOpacity={0.2} isAnimationActive={false} activeDot={false} />
          <Area dataKey="gB" type="linear" stroke="none" fill={GREEN} fillOpacity={0.2} isAnimationActive={false} activeDot={false} />
          <Area dataKey="rB" type="linear" stroke="none" fill={RED} fillOpacity={0.2} isAnimationActive={false} activeDot={false} />
          <Line dataKey="g" type="linear" stroke={GREEN} strokeWidth={2} dot={false} activeDot={false} isAnimationActive={false} />
          <Line dataKey="r" type="linear" stroke={RED} strokeWidth={2} dot={false} activeDot={false} isAnimationActive={false} />
          <ReferenceLine y={0.999} stroke={THR} strokeWidth={1.8} strokeDasharray="7.4 3.2" />
        </ComposedChart>
      </div>
      <div style={{ position: "absolute", left: b.L, top: b.T, width: w, height: h, border: "1px solid #222", boxSizing: "border-box", pointerEvents: "none" }} />
    </>
  );
}

const K = (sub: string) => (
  <>
    <i>K</i>
    <sub style={{ fontStyle: "italic", fontSize: "70%", verticalAlign: "-0.3em", lineHeight: 0 }}>{sub}</sub>
  </>
);
const EQ = "\u2009=\u2009";

const LEGEND_BASE = [
  { color: BLUE, label: <>penalty ({K("P")}{EQ}12)</> },
  { color: ORANGE, label: <>penalty ({K("P")}{EQ}80)</> },
  { color: GREEN, label: <>Lagrangian ({K("I")}{EQ}18)</> },
  { color: RED, label: <>SPIL ({K("P")}{EQ}15,{"\u2009"}{K("I")}{EQ}0.6)</> },
];

function LegendBox({ left, top, width, rowH, items }: {
  left: number; top: number; width: number; rowH: number;
  items: { color: string; label: React.ReactNode; dashed?: boolean }[];
}) {
  return (
    <div style={{
      position: "absolute", left, top, width, height: rowH * items.length + 3, boxSizing: "border-box",
      border: "1px solid #d3d3d3", borderRadius: 3, background: "rgba(255,255,255,0.8)",
      fontFamily: FONT, fontSize: 14.5, color: TXT,
    }}>
      {items.map((it, i) => (
        <div key={i} style={{ position: "absolute", left: 0, top: 1 + i * rowH, height: rowH, width: "100%", display: "flex", alignItems: "center" }}>
          <svg width={30} height={4} style={{ marginLeft: 5, overflow: "visible", flex: "none" }}>
            <line x1={0} y1={2} x2={30} y2={2} stroke={it.color} strokeWidth={2} strokeDasharray={it.dashed ? "7.4 3.2" : undefined} />
          </svg>
          <span style={{ marginLeft: 11.5, whiteSpace: "nowrap", lineHeight: 1 }}>{it.label}</span>
        </div>
      ))}
    </div>
  );
}

function YLabel({ x, y, text }: { x: number; y: number; text: string }) {
  return (
    <div style={{
      position: "absolute", left: x, top: y, transform: "translate(-50%, -50%) rotate(-90deg)",
      fontFamily: FONT, fontSize: 15.5, color: TXT, whiteSpace: "nowrap", lineHeight: 1,
    }}>{text}</div>
  );
}

function XLabel({ x, y }: { x: number; y: number }) {
  return (
    <div style={{
      position: "absolute", left: x, top: y, transform: "translate(-50%, -50%)",
      fontFamily: FONT, fontSize: 15.5, color: TXT, whiteSpace: "nowrap", lineHeight: 1,
    }}>Iteration</div>
  );
}

function Caption({ x, y, text }: { x: number; y: number; text: string }) {
  return (
    <div style={{
      position: "absolute", left: x, top: y, transform: "translate(-50%, -50%)",
      fontFamily: SERIF, fontSize: 21, color: "#000", whiteSpace: "nowrap", lineHeight: 1,
    }}>{text}</div>
  );
}

export default function App() {
  const cornerTL = toData(BOX_D, SAFE_DOMAIN, BOX_INSET.L, BOX_INSET.T);
  const cornerBR = toData(BOX_D, SAFE_DOMAIN, BOX_INSET.R, BOX_INSET.B);
  const zoomMarks = [
    <ReferenceArea key="zbox" x1={INSET_X[0]} x2={INSET_X[1]} y1={INSET_Y[0]} y2={INSET_Y[1]} fill="none" stroke="#333" strokeWidth={1} />,
    <ReferenceLine key="z1" segment={[{ x: INSET_X[0], y: INSET_Y[1] }, cornerTL]} stroke="#111" strokeWidth={1} />,
    <ReferenceLine key="z2" segment={[{ x: INSET_X[1], y: INSET_Y[0] }, cornerBR]} stroke="#111" strokeWidth={1} />,
  ];
  return (
    <div style={{ position: "absolute", left: 0, top: 0, width: 1043, height: 808, background: "#fff", overflow: "hidden" }}>
      <Panel box={BOX_A} domain={REWARD_DOMAIN} yTicks={REWARD_TICKS} fmt={minus} data={tableA} greenCurve="monotone" />
      <Panel box={BOX_B} domain={REWARD_DOMAIN} yTicks={REWARD_TICKS} fmt={minus} data={tableB} />
      <Panel box={BOX_C} domain={SAFE_DOMAIN} yTicks={SAFE_TICKS} fmt={oneDec} data={tableC} threshold={0.9} greenCurve="monotone" />
      <Panel box={BOX_D} domain={SAFE_DOMAIN} yTicks={SAFE_TICKS} fmt={oneDec} data={tableD} threshold={0.999} extra={zoomMarks} />
      <Inset />

      <LegendBox left={269} top={200} width={212} rowH={23} items={LEGEND_BASE} />
      <LegendBox left={808.3} top={200} width={211.7} rowH={23} items={LEGEND_BASE} />
      <LegendBox left={233} top={595.7} width={248} rowH={22.5}
        items={[...LEGEND_BASE, { color: THR, dashed: true, label: "constraint threshold 90.0%" }]} />
      <LegendBox left={771.7} top={595.7} width={247.6} rowH={22.5}
        items={[...LEGEND_BASE, { color: THR, dashed: true, label: "constraint threshold 99.9%" }]} />

      <YLabel x={16.7} y={155} text="Cumulative reward" />
      <YLabel x={555} y={155} text="Cumulative reward" />
      <YLabel x={17} y={571.5} text="Safe probability" />
      <YLabel x={555} y={571.5} text="Safe probability" />
      <XLabel x={279.9} y={336.7} />
      <XLabel x={818.5} y={336.7} />
      <XLabel x={275.7} y={753} />
      <XLabel x={814.4} y={753} />

      <Caption x={256} y={380} text="(a) Cumulative reward under 90.0% threshold" />
      <Caption x={792} y={380} text="(b) Cumulative reward under 99.9% threshold" />
      <Caption x={256} y={794} text="(c) Safe probability under 90.0% threshold" />
      <Caption x={797} y={794} text="(d) Safe probability under 99.9% threshold" />
    </div>
  );
}
